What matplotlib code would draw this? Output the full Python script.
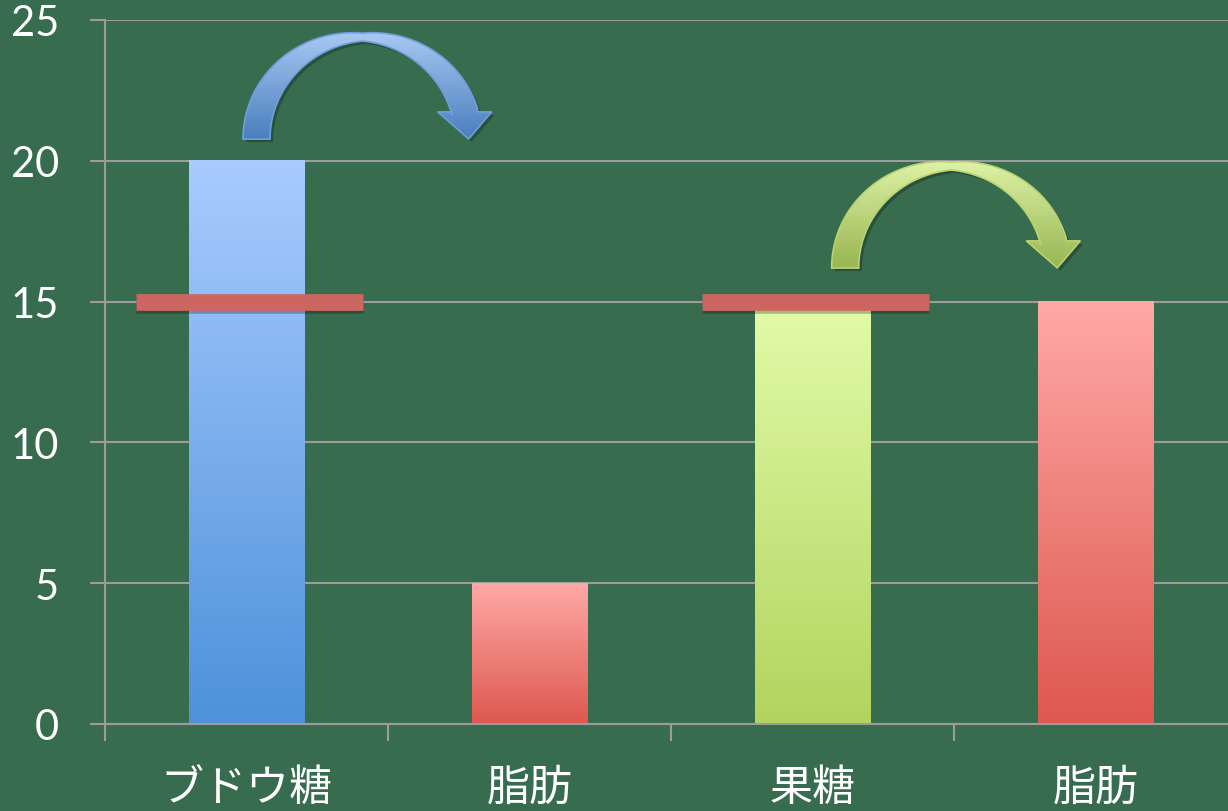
import numpy as np
import matplotlib
matplotlib.use('Agg')
import matplotlib.pyplot as plt
import matplotlib.patheffects as pe
from matplotlib.colors import to_rgb
from matplotlib.patches import Polygon

plt.rcParams['font.family'] = ['Noto Sans CJK JP', 'DejaVu Sans']

categories = ['ブドウ糖', '脂肪', '果糖', '脂肪']
values = [20, 5, 15, 15]
bar_top_colors = ['#A9CBFF', '#FFA9A6', '#E2FBA9', '#FFA9A6']
bar_bottom_colors = ['#4D92DA', '#DD5850', '#B2D45E', '#DD5850']
yticks = [0, 5, 10, 15, 20, 25]

# red marker line at 15 drawn across the two sugar bars
marker_level = 15
marker_bars = [0, 2]

# curved arrows (centre x, base level, colours)
arrow_centres = [0.41, 2.49]
arrow_bases = [20.77, 16.19]
arrow_top_colors = ['#A9C9F2', '#DDF2A6']
arrow_bottom_colors = ['#4A7EBE', '#98B652']
arrow_edges = ['#6E9FDC', '#B8D372']

BG = '#386C4F'
GRID = '#9C9C9C'
BAR_W = 0.407


def grad(top, bottom, n=256):
    t = np.linspace(0, 1, n)[:, None]
    c = np.array(to_rgb(bottom)) * (1 - t) + np.array(to_rgb(top)) * t
    return c[:, None, :]


fig = plt.figure(figsize=(12.28, 8.12), dpi=100, facecolor=BG)
ax = fig.add_axes([105 / 1228, 87 / 812, 1132 / 1228, 704 / 812])
ax.set_facecolor(BG)

# bars with vertical gradient
for i, v in enumerate(values):
    ax.imshow(grad(bar_top_colors[i], bar_bottom_colors[i]),
              extent=[i - BAR_W / 2, i + BAR_W / 2, 0, v],
              origin='lower', aspect='auto', interpolation='bilinear', zorder=2)

# red level markers
for b in marker_bars:
    ax.plot([b - 0.39, b + 0.41], [marker_level, marker_level], color='#CD6661',
            lw=12, solid_capstyle='butt', zorder=4,
            path_effects=[pe.SimpleLineShadow(offset=(0, -2.5), alpha=0.25), pe.Normal()])

ax.set_xlim(-0.5, len(categories) - 0.5)
ax.set_ylim(0, 25)

# pixel scale so the arrows keep their shape
pos = ax.get_position()
sx = fig.get_figwidth() * fig.dpi * pos.width / len(categories)
sy = fig.get_figheight() * fig.dpi * pos.height / 25

t = np.linspace(np.pi, 0.27, 150)
rx, ry = 106, 102
for k in range(len(arrow_centres)):
    cx, base = arrow_centres[k], arrow_bases[k]
    px, py = rx * np.cos(t), ry * np.sin(t)
    dx, dy = rx * np.sin(t), -ry * np.cos(t)
    L = np.hypot(dx, dy)
    dx, dy = dx / L, dy / L
    nx, ny = -dy, dx
    w = 8 + 19 * np.abs(np.cos(t))
    ox, oy = px + nx * w / 2, py + ny * w / 2
    ix, iy = px - nx * w / 2, py - ny * w / 2
    ex, ey = px[-1], py[-1]
    # flat head base, tip pointing down
    hx = [ex + 27, ex + 4, ex - 27]
    hy = [ey, ey - 27, ey]
    X = np.concatenate([ox, [ex + w[-1] / 2], hx, [ex - w[-1] / 2], ix[::-1]])
    Y = np.concatenate([oy, [ey], hy, [ey], iy[::-1]])
    xs = cx + X / sx
    ys = base + Y / sy
    pts = np.column_stack([xs, ys])
    shadow = Polygon(np.column_stack([xs + 3 / sx, ys - 3 / sy]), closed=True,
                     facecolor='black', alpha=0.25, edgecolor='none', zorder=5)
    ax.add_patch(shadow)
    poly = Polygon(pts, closed=True, facecolor='none',
                   edgecolor=arrow_edges[k], lw=1.2, zorder=7)
    ax.add_patch(poly)
    im = ax.imshow(grad(arrow_top_colors[k], arrow_bottom_colors[k]),
                   extent=[xs.min(), xs.max(), ys.min(), ys.max()],
                   origin='lower', aspect='auto', interpolation='bilinear', zorder=6)
    im.set_clip_path(poly)

ax.set_xlim(-0.5, len(categories) - 0.5)
ax.set_ylim(0, 25)

# axes styling
ax.set_yticks(yticks)
ax.yaxis.grid(True, color=GRID, lw=1.5)
ax.set_axisbelow(True)
ax.tick_params(axis='y', length=11, width=1.5, color=GRID, labelcolor='white',
               labelsize=30, pad=22)
for lab in ax.get_yticklabels():
    lab.set_fontfamily('Lato')

ax.set_xticks(range(len(categories)))
ax.set_xticklabels(categories)
ax.set_xticks(np.arange(-0.5, len(categories)), minor=True)
ax.tick_params(axis='x', which='major', length=0, labelcolor='white',
               labelsize=31, pad=30)
ax.tick_params(axis='x', which='minor', length=12, width=1.5, color=GRID)

for s in ['top', 'right']:
    ax.spines[s].set_visible(False)
for s in ['left', 'bottom']:
    ax.spines[s].set_color(GRID)
    ax.spines[s].set_linewidth(1.5)

fig.savefig('out.png', dpi=100, facecolor=BG)
